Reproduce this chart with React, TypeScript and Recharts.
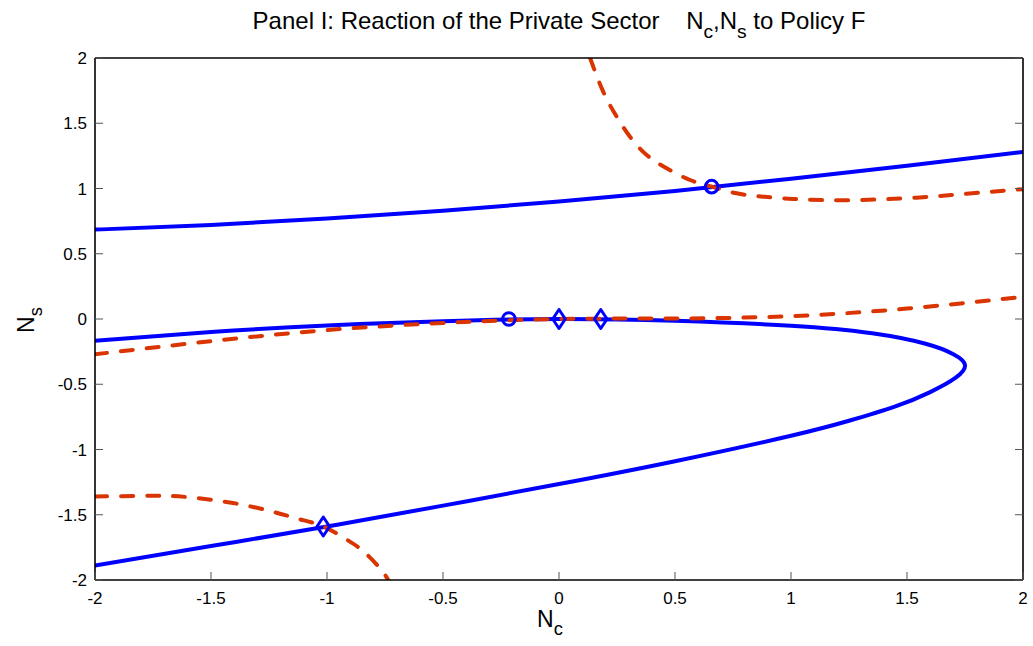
import { ComposedChart, Line, Scatter, XAxis, YAxis } from 'recharts';

// Curves, as [Nc, Ns] pairs in drawing order.
const upperBlue: [number, number][] = [
  [-2, 0.685], [-1.5, 0.72], [-1, 0.77], [-0.5, 0.83], [0, 0.9],
  [0.5, 0.98], [1, 1.075], [1.5, 1.175], [2, 1.28],
];

const upperRed: [number, number][] = [
  [0.134, 2.0], [0.191, 1.74], [0.249, 1.55], [0.306, 1.397], [0.378, 1.257],
  [0.464, 1.155], [0.565, 1.065], [0.658, 1.014], [0.766, 0.963], [0.88, 0.937],
  [1.01, 0.92], [1.24, 0.91], [1.54, 0.93], [1.757, 0.96], [2.0, 0.995],
];

const middleRed: [number, number][] = [
  [-2, -0.27], [-1.5, -0.17], [-1, -0.085], [-0.5, -0.03], [0, 0],
  [0.5, 0.004], [1, 0.022], [1.5, 0.08], [2, 0.17],
];

// sideways branch: upper arm left→right, round the tip, lower arm back to the left
const sideBlue: [number, number][] = [
  [-2, -0.166], [-1.5, -0.1], [-1, -0.05], [-0.5, -0.017], [0, 0],
  [0.5, -0.014], [1, -0.052], [1.35, -0.11], [1.58, -0.19], [1.7, -0.27],
  [1.75, -0.352], [1.71, -0.45], [1.6, -0.56], [1.45, -0.67], [1.25, -0.78],
  [1, -0.895], [0.5, -1.09], [0, -1.265], [-0.5, -1.43], [-1, -1.59],
  [-1.5, -1.74], [-2, -1.89],
];

const lowerRed: [number, number][] = [
  [-2, -1.36], [-1.75, -1.355], [-1.6, -1.365], [-1.405, -1.41], [-1.233, -1.477],
  [-1.116, -1.535], [-1.016, -1.59], [-0.915, -1.69], [-0.843, -1.78],
  [-0.772, -1.91], [-0.736, -2.0],
];

const circleMarks: [number, number][] = [[-0.216, 0], [0.658, 1.014]];
const diamondMarks: [number, number][] = [[0, 0], [0.18, 0], [-1.016, -1.59]];

const ticks = [-2, -1.5, -1, -0.5, 0, 0.5, 1, 1.5, 2];

const BLUE = '#0000ff';
const RED = '#da3400';
const TICK = '#555';
const FONT = '"Liberation Sans", Arial, sans-serif';

const toPts = (rows: [number, number][]) => rows.map(([x, y]) => ({ x, y }));

function BottomTick({ x, y, payload }: any) {
  return (
    <g>
      <line x1={x} x2={x} y1={y} y2={y - 8} stroke={TICK} />
      <text x={x} y={y + 24} textAnchor="middle" fontSize={17} fontFamily={FONT} fill="#000">
        {String(payload.value)}
      </text>
    </g>
  );
}

function LeftTick({ x, y, payload }: any) {
  return (
    <g>
      <line x1={x} x2={x + 8} y1={y} y2={y} stroke={TICK} />
      <text x={x - 8} y={y + 6} textAnchor="end" fontSize={17} fontFamily={FONT} fill="#000">
        {String(payload.value)}
      </text>
    </g>
  );
}

const TopTick = ({ x, y }: any) => <line x1={x} x2={x} y1={y} y2={y + 8} stroke={TICK} />;
const RightTick = ({ x, y }: any) => <line x1={x} x2={x - 8} y1={y} y2={y} stroke={TICK} />;

const CircleMark = ({ cx, cy }: any) => (
  <circle cx={cx} cy={cy} r={6.3} fill="none" stroke={BLUE} strokeWidth={3} />
);

const DiamondMark = ({ cx, cy }: any) => (
  <path
    d={`M${cx},${cy - 9.5}L${cx + 6.3},${cy}L${cx},${cy + 9.5}L${cx - 6.3},${cy}Z`}
    fill="none"
    stroke={BLUE}
    strokeWidth={3}
    strokeLinejoin="round"
  />
);

const frame = { stroke: '#000', strokeWidth: 1.6 };
const subStyle = { fontSize: '0.8em', verticalAlign: '-0.45em', lineHeight: 0 };

export default function App() {
  const dashed = { stroke: RED, strokeWidth: 4, strokeDasharray: '12 14', strokeLinecap: 'round' as const };
  const solid = { stroke: BLUE, strokeWidth: 4 };
  return (
    <div
      style={{
        position: 'absolute',
        left: 0,
        top: 0,
        width: 1033,
        height: 646,
        background: '#fff',
        fontFamily: FONT,
        color: '#000',
      }}
    >
      <ComposedChart width={1033} height={646} margin={{ top: 0, right: 0, bottom: 0, left: 0 }}>
        <XAxis
          xAxisId="b"
          type="number"
          dataKey="x"
          domain={[-2, 2]}
          ticks={ticks}
          interval={0}
          allowDataOverflow
          height={66}
          tickSize={0}
          tickMargin={0}
          tickLine={false}
          axisLine={frame}
          tick={<BottomTick />}
        />
        <XAxis
          xAxisId="t"
          orientation="top"
          type="number"
          domain={[-2, 2]}
          ticks={ticks}
          interval={0}
          allowDataOverflow
          height={58}
          tickSize={0}
          tickMargin={0}
          tickLine={false}
          axisLine={frame}
          tick={<TopTick />}
        />
        <YAxis
          yAxisId="l"
          type="number"
          dataKey="y"
          domain={[-2, 2]}
          ticks={ticks}
          interval={0}
          allowDataOverflow
          width={95}
          tickSize={0}
          tickMargin={0}
          tickLine={false}
          axisLine={frame}
          tick={<LeftTick />}
        />
        <YAxis
          yAxisId="r"
          orientation="right"
          type="number"
          domain={[-2, 2]}
          ticks={ticks}
          interval={0}
          allowDataOverflow
          width={10}
          tickSize={0}
          tickMargin={0}
          tickLine={false}
          axisLine={frame}
          tick={<RightTick />}
        />
        <Line xAxisId="b" yAxisId="l" data={toPts(upperBlue)} dataKey="y" type="natural" {...solid} dot={false} isAnimationActive={false} />
        <Line xAxisId="b" yAxisId="l" data={toPts(sideBlue)} dataKey="y" type="natural" {...solid} dot={false} isAnimationActive={false} />
        <Line xAxisId="b" yAxisId="l" data={toPts(upperRed)} dataKey="y" type="natural" {...dashed} dot={false} isAnimationActive={false} />
        <Line xAxisId="b" yAxisId="l" data={toPts(middleRed)} dataKey="y" type="natural" {...dashed} dot={false} isAnimationActive={false} />
        <Line xAxisId="b" yAxisId="l" data={toPts(lowerRed)} dataKey="y" type="natural" {...dashed} dot={false} isAnimationActive={false} />
        <Scatter xAxisId="b" yAxisId="l" data={toPts(circleMarks)} dataKey="y" shape={CircleMark} isAnimationActive={false} />
        <Scatter xAxisId="b" yAxisId="l" data={toPts(diamondMarks)} dataKey="y" shape={DiamondMark} isAnimationActive={false} />
      </ComposedChart>

      <div
        style={{
          position: 'absolute',
          left: 559,
          top: 7,
          transform: 'translateX(-50%)',
          whiteSpace: 'pre',
          fontSize: 24,
          lineHeight: '28px',
        }}
      >
        Panel I: Reaction of the Private Sector{'    '}N<sub style={subStyle}>c</sub>,N<sub style={subStyle}>s</sub> to Policy F
      </div>

      <div style={{ position: 'absolute', left: 537, top: 606, fontSize: 23, lineHeight: '26px', whiteSpace: 'pre' }}>
        N<sub style={subStyle}>c</sub>
      </div>

      <div
        style={{
          position: 'absolute',
          left: 26,
          top: 320,
          transform: 'translate(-50%, -50%) rotate(-90deg)',
          fontSize: 23,
          lineHeight: '26px',
          whiteSpace: 'pre',
        }}
      >
        N<sub style={subStyle}>s</sub>
      </div>
    </div>
  );
}
